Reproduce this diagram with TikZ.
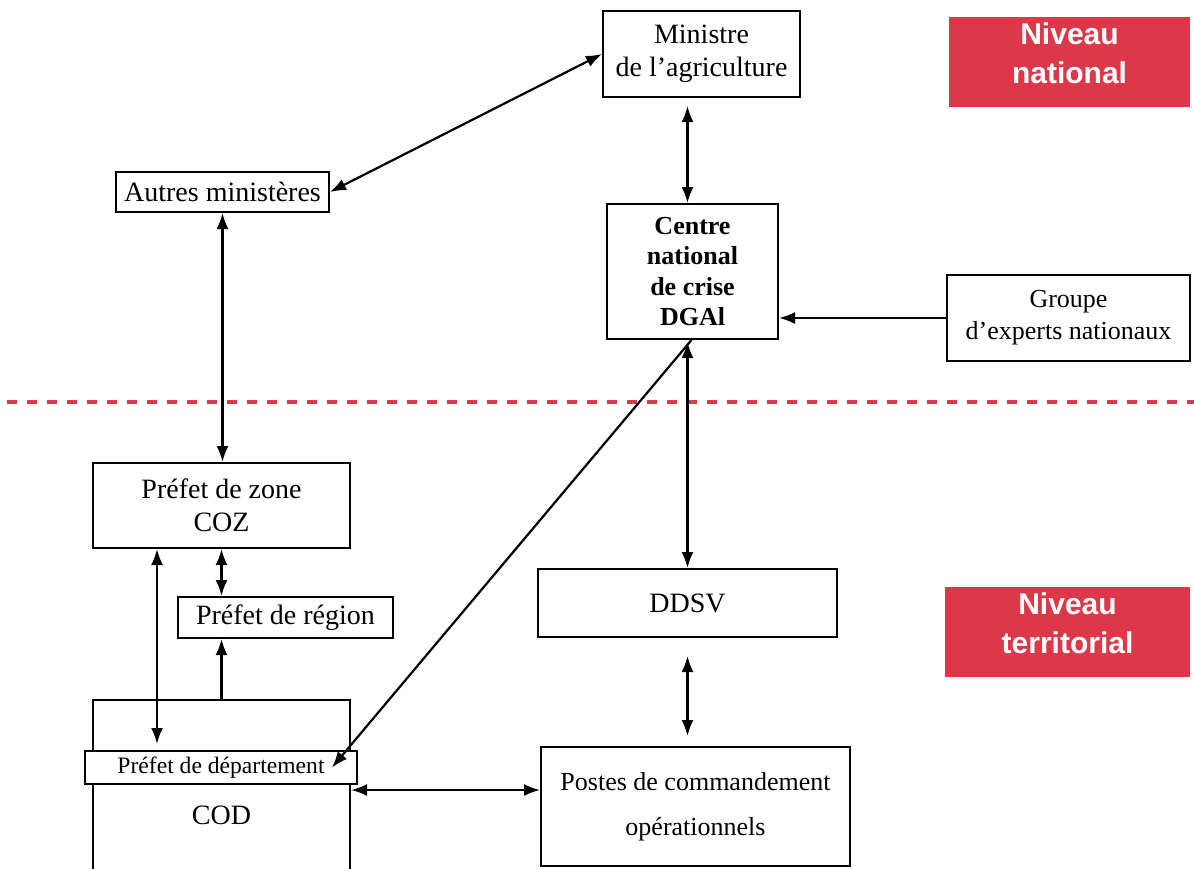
\documentclass[tikz,border=0pt]{standalone}
\usepackage{fontspec}
\setmainfont{Liberation Serif}
\newfontfamily\nivfont{Liberation Sans}
\usetikzlibrary{arrows.meta}
\definecolor{nivred}{RGB}{220,56,74}

\begin{document}
\begin{tikzpicture}
	[x=1pt,y=-1pt,>={Latex[length=16pt,width=12pt]},
	every node/.style={draw,line width=2pt,align=center,inner sep=0pt,font=\fontsize{28}{33}\selectfont},
	link/.style={line width=2.2pt,<->},
	tip/.style={line width=2.2pt,->},
	niveau/.style={draw=none,fill=nivred,minimum height=90},
	nivtext/.style={draw=none,text=white,font=\nivfont\bfseries\fontsize{30}{39}\selectfont}]
	\useasboundingbox (0,0) rectangle (1194,868);

	\draw[nivred,line width=4pt,dash pattern=on 10pt off 10pt] (7,402) -- (1194,402);

	\node (min) at (701.5,54) [minimum width=197,minimum height=86] {Ministre\\de l’agriculture};
	\node (aut) at (222.5,192) [minimum width=213,minimum height=40] {Autres ministères};
	\node (cnc) at (692.5,271.5) [minimum width=171,minimum height=135,
		font=\bfseries\fontsize{26}{30.5}\selectfont] {Centre\\national\\de crise\\DGAl};
	\node (grp) at (1068.5,318) [minimum width=243,minimum height=86,
		font=\fontsize{26}{32}\selectfont] {Groupe\\d’experts nationaux};
	\node (zone) at (221.5,505.5) [minimum width=257,minimum height=85] {Préfet de zone\\COZ};
	\node (reg) at (285.5,617.5) [minimum width=215,minimum height=41] {Préfet de région};
	\node (cod) at (221.5,790) [minimum width=257,minimum height=180] {};
	\node (codtxt) at (221.5,815) [draw=none] {COD};
	\node (dept) at (221,767.5) [fill=white,minimum width=272,minimum height=33,
		font=\fontsize{23.6}{28}\selectfont] {Préfet de département};
	\node (ddsv) at (687.5,603) [minimum width=299,minimum height=68] {DDSV};
	\node (pc) at (695.5,806.5) [minimum width=309,minimum height=119,
		font=\fontsize{26}{45}\selectfont] {Postes de commandement\\opérationnels};

	\node[niveau,minimum width=241] (nat) at (1069.5,62) {};
	\node[nivtext] (nattxt) at ([yshift=9pt]nat.center) {Niveau\\national};
	\node[niveau,minimum width=245] (terr) at (1067.5,632) {};
	\node[nivtext] (terrtxt) at ([yshift=9pt]terr.center) {Niveau\\territorial};

	\coordinate (pcin) at ([yshift=16.5pt]pc.west);
	\draw[link] (aut.east) -- (min.west);
	\draw[link,shorten <=8pt] (min.south -| ddsv.north) -- (cnc.north -| ddsv.north);
	\draw[tip] (grp.west) -- (grp.west -| cnc.east);
	\draw[link] (aut.south) -- (aut.south |- zone.north);
	\draw[link,shorten <=2pt] (cnc.south -| ddsv.north) -- (ddsv.north);
	\draw[tip] ([xshift=-1pt]cnc.south) -- ([xshift=-26pt]dept.east);
	\draw[link] (zone.south) -- (zone.south |- reg.north);
	\draw[tip] (cod.north) -- (cod.north |- reg.south);
	\draw[link,shorten >=6pt] ([xshift=-64.5pt]zone.south) -- ([xshift=-64.5pt]zone.south |- dept.north);
	\draw[link,shorten <=18pt,shorten >=10pt] (ddsv.south) -- (ddsv.south |- pc.north);
	\draw[link] (pcin -| cod.east) -- (pcin);

\end{tikzpicture}
\end{document}
